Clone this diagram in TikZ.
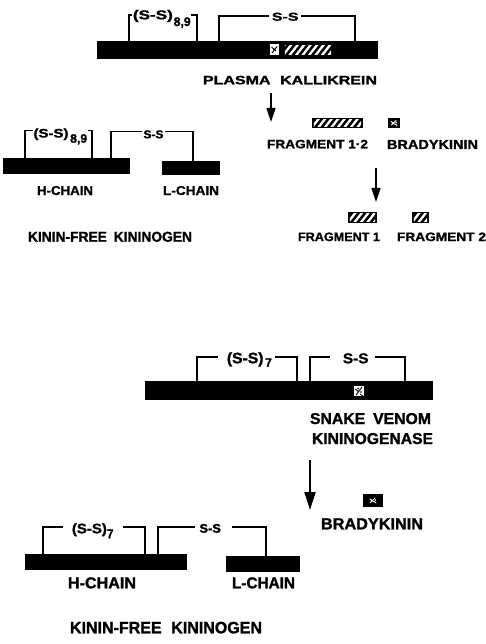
\documentclass[tikz,border=0pt]{standalone}
\usepackage{fontspec}
\usepackage{graphicx}
\newfontfamily\lbf{Liberation Sans}[BoldFeatures={FakeBold=1.3}]
\usetikzlibrary{arrows.meta}
\newcommand\lab[3]{\resizebox{#1pt}{#2pt}{\lbf\bfseries #3}}
\newcommand\hatchbox[4]{%
  \fill[black] (#1,#2) rectangle (#3,#4);
  \begin{scope}
    \clip (#1+1.8,#2+1.8) rectangle (#3-1.8,#4-1.8);
    \foreach \xx in {-20,-13.5,...,70} \draw[white,line width=2.3pt] (#1+\xx,#4) -- ++(14,-18);
  \end{scope}}
\newcommand\bkbox[4]{%
  \fill[black] (#1,#2) rectangle (#3,#4);
  \begin{scope}[shift={({(#1+#3)/2},{(#2+#4)/2})}]
    \draw[white,line width=0.9pt,line cap=round] (-3,-1.5) -- (1,1.5) (-2.5,2) -- (2,-2.5) (1.5,1) -- (3,2.5);
    \fill[white] (2.2,-0.5) circle (0.9) (-1.5,0.2) circle (0.8);
  \end{scope}}
\begin{document}
\begin{tikzpicture}[x=1pt,y=-1pt,
  br/.style={line width=1.6pt},
  arr/.style={line width=1.6pt,-{Triangle[length=14pt,width=9pt]}},
  arrbig/.style={line width=1.8pt,-{Triangle[length=18pt,width=11pt]}},
  txt/.style={anchor=base,inner sep=0pt},
  txtw/.style={anchor=base west,inner sep=0pt}]
\useasboundingbox[fill=white] (0,0) rectangle (486,644);

%% ---------------- Diagram 1: kininogen + plasma kallikrein
\fill (97,41) rectangle (378,59);
\fill[white] (270,44) rectangle (279,55);
\draw[black,line width=0.9pt] (271.5,47) -- (276,51) (272,53) -- (277,46.5);
\fill[black] (274,49.5) circle (1);
\hatchbox{283}{43.5}{333}{56}
% brackets
\coordinate (a1b) at (129,41); \coordinate (a1l) at (131.5,15);
\coordinate (a1r) at (190.5,15); \coordinate (a1c) at (197,41);
\draw[br] (a1b) |- (a1l);
\draw[br] (a1r) -| (a1c);
\node[txtw] (a1t) at (132.7,19.3) {\lab{40}{9.3}{(S-S)}};
\node[txtw] (a1s) at (173.5,26) {\lab{17}{8.7}{8,9}};
\coordinate (a2b) at (219,41); \coordinate (a2l) at (269,16);
\coordinate (a2r) at (301,16); \coordinate (a2c) at (355,41);
\draw[br] (a2b) |- (a2l);
\draw[br] (a2r) -| (a2c);
\node[txtw] (a2t) at (271.7,20.7) {\lab{26.6}{8}{S-S}};
\node[txt] (pk) at (290,84.3) {\lab{174}{8.5}{PLASMA\hspace{0.6em}KALLIKREIN}};
% arrow 1
\coordinate (ar1s) at (271,93); \coordinate (ar1e) at (271,122);
\draw[arr] (ar1s) -- (ar1e);
% products
\hatchbox{312}{118}{363}{128}
\bkbox{388}{118}{400}{128}
\node[txt] (f12) at (317.5,148.3) {\lab{101}{8.5}{FRAGMENT 1·2}};
\node[txt] (bk1) at (432.5,149) {\lab{91}{9}{BRADYKININ}};
\coordinate (ar2s) at (376,168); \coordinate (ar2e) at (376,202);
\draw[arr] (ar2s) -- (ar2e);
\hatchbox{348}{212}{377}{223}
\hatchbox{412}{212}{429}{223}
\node[txt] (f1) at (339,241) {\lab{82}{8.5}{FRAGMENT 1}};
\node[txt] (f2) at (441.5,241) {\lab{89}{8.5}{FRAGMENT 2}};

%% ---------------- Diagram 2: kinin-free kininogen (kallikrein)
\fill (3,158) rectangle (130,174);
\fill (162,161) rectangle (220,175);
\coordinate (b1b) at (25,158); \coordinate (b1l) at (32.5,130.5);
\coordinate (b1r) at (87.5,130.5); \coordinate (b1c) at (92,158);
\draw[br] (b1b) |- (b1l);
\draw[br] (b1r) -| (b1c);
\node[txtw] (b1t) at (33.3,137.5) {\lab{35}{9}{(S-S)}};
\node[txtw] (b1s) at (70,142.7) {\lab{17}{8.5}{8,9}};
\coordinate (b2b) at (111,158); \coordinate (b2l) at (142,131.5);
\coordinate (b2r) at (164.5,131.5); \coordinate (b2c) at (193,161);
\draw[br] (b2b) |- (b2l);
\draw[br] (b2r) -| (b2c);
\node[txtw] (b2t) at (143.3,138.3) {\lab{20}{8}{S-S}};
\node[txt] (hc1) at (65,195) {\lab{56}{9}{H-CHAIN}};
\node[txt] (lc1) at (191,195) {\lab{56}{9}{L-CHAIN}};
\node[txt] (kf1) at (110,241.7) {\lab{164}{10}{KININ-FREE\hspace{0.5em}KININOGEN}};

%% ---------------- Diagram 3: kininogen + snake venom kininogenase
\fill (145,381) rectangle (433,399.5);
\fill[white] (354,386) rectangle (364,396);
\draw[black,line width=0.9pt] (355,389) -- (359,392) (356,395) -- (362,387) (360,394) -- (363,396);
\fill[black] (358,388.5) circle (1) (361,392) circle (0.8);
\coordinate (c1b) at (197,381); \coordinate (c1l) at (218,357);
\coordinate (c1r) at (275,357); \coordinate (c1c) at (297,381);
\draw[br] (c1b) |- (c1l);
\draw[br] (c1r) -| (c1c);
\node[txtw] (c1t) at (226.7,363.3) {\lab{36.6}{11}{(S-S)}};
\node[txtw] (c1s) at (265,366.7) {\lab{6.7}{8.4}{7}};
\coordinate (c2b) at (310,381); \coordinate (c2l) at (330,357);
\coordinate (c2r) at (375,357); \coordinate (c2c) at (405,381);
\draw[br] (c2b) |- (c2l);
\draw[br] (c2r) -| (c2c);
\node[txtw] (c2t) at (342.7,363.3) {\lab{25.6}{10}{S-S}};
\node[txt] (sv) at (370.5,424) {\lab{121}{11}{SNAKE\hspace{0.5em}VENOM}};
\node[txt] (kg) at (372.5,444) {\lab{121}{11}{KININOGENASE}};
\coordinate (ar3s) at (310,460); \coordinate (ar3e) at (310,510);
\draw[arrbig] (ar3s) -- (ar3e);
\bkbox{363}{494}{383}{507}
\node[txt] (bk2) at (372,529.3) {\lab{102}{11}{BRADYKININ}};

%% ---------------- Diagram 4: kinin-free kininogen (venom)
\fill (25,554) rectangle (187,570);
\fill (226,556) rectangle (300,572);
\coordinate (d1b) at (43,554); \coordinate (d1l) at (63,527);
\coordinate (d1r) at (123,527); \coordinate (d1c) at (145,554);
\draw[br] (d1b) |- (d1l);
\draw[br] (d1r) -| (d1c);
\node[txtw] (d1t) at (71.7,533.3) {\lab{35}{10}{(S-S)}};
\node[txtw] (d1s) at (106.7,538.3) {\lab{6.6}{9}{7}};
\coordinate (d2b) at (158,554); \coordinate (d2l) at (195,527);
\coordinate (d2r) at (232,527); \coordinate (d2c) at (266,556);
\draw[br] (d2b) |- (d2l);
\draw[br] (d2r) -| (d2c);
\node[txtw] (d2t) at (199.3,532.7) {\lab{21.4}{8.7}{S-S}};
\node[txt] (hc2) at (102,588.3) {\lab{68}{11}{H-CHAIN}};
\node[txt] (lc2) at (263.5,588.3) {\lab{63}{11}{L-CHAIN}};
\node[txt] (kf2) at (166,633.3) {\lab{192}{11.5}{KININ-FREE\hspace{0.6em}KININOGEN}};
\end{tikzpicture}
\end{document}
